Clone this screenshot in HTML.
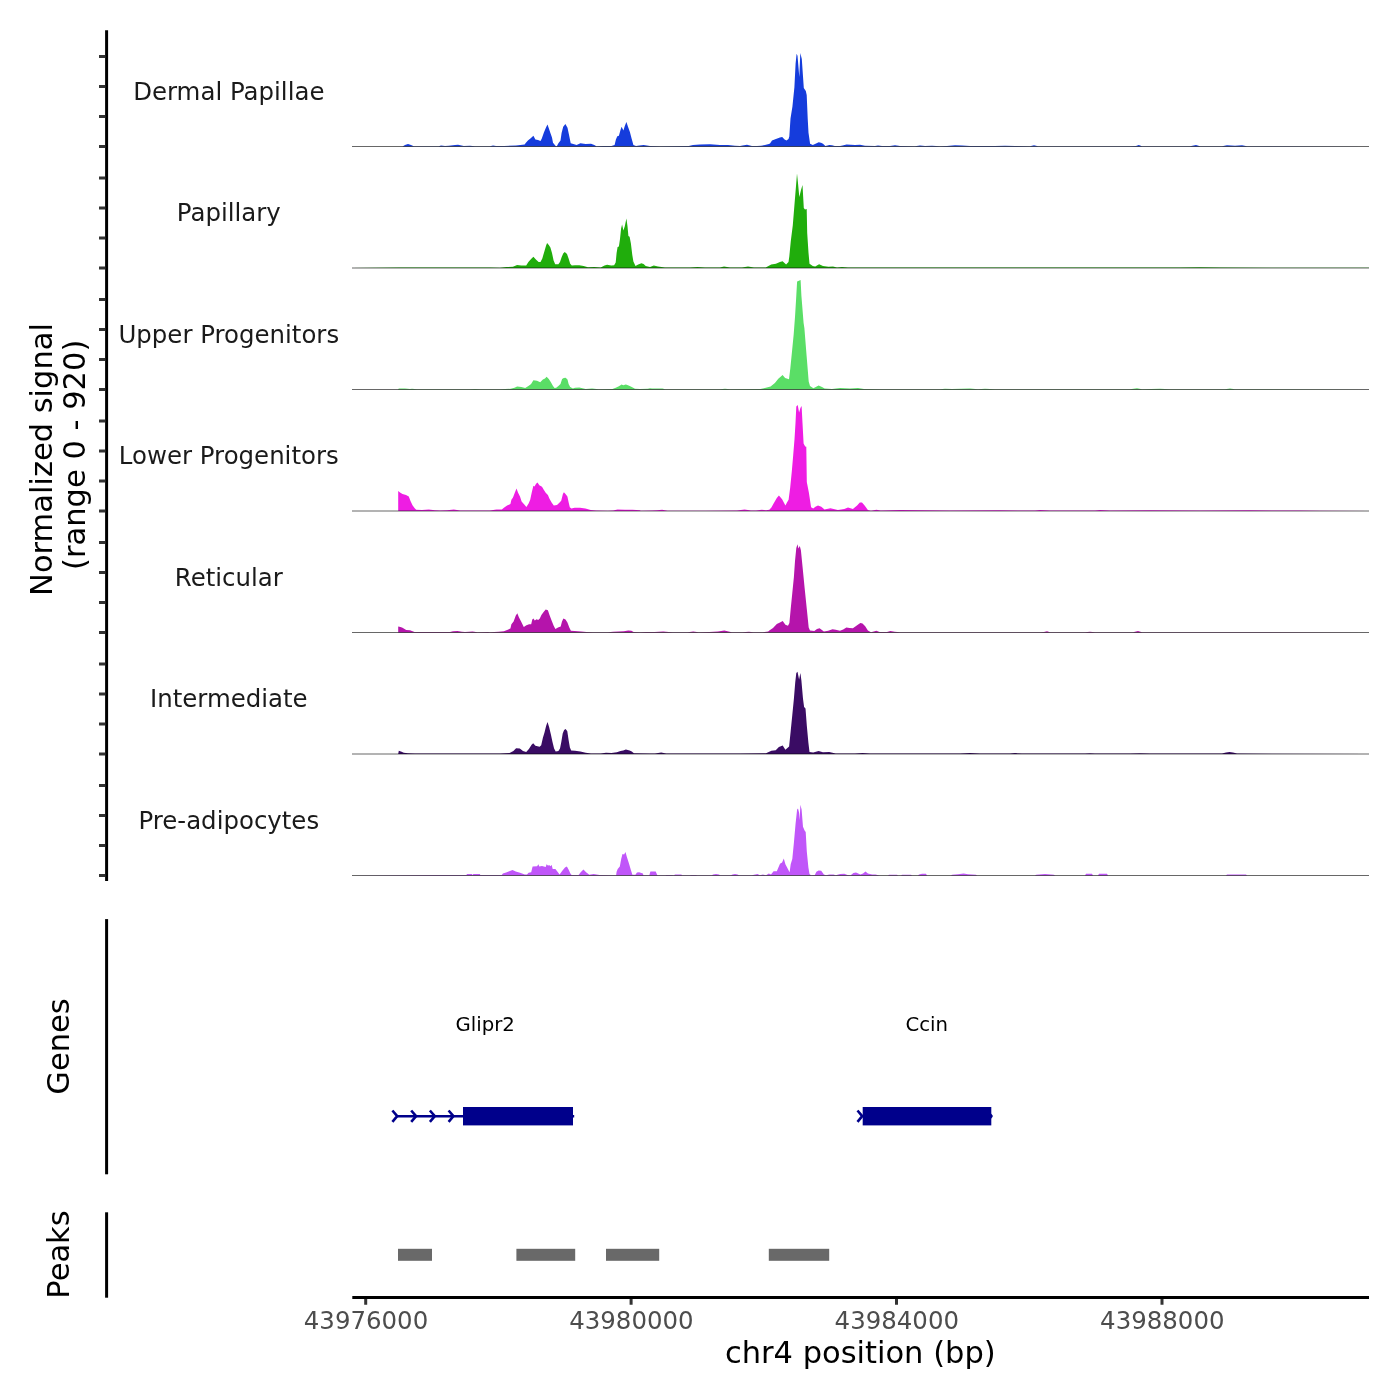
<!DOCTYPE html>
<html lang="en"><head><meta charset="utf-8"><title>Coverage plot chr4</title>
<style>html,body{margin:0;padding:0;background:#fff;overflow:hidden}svg{display:block}text{font-family:"DejaVu Sans", "Liberation Sans", sans-serif}</style></head><body>
<svg width="1400" height="1400" viewBox="0 0 1400 1400">
<rect width="1400" height="1400" fill="#fff"/>
<g id="coverage">
<path d="M352,146.5L352,146.5L402.5,146.5L405,145L408,144L411,145L413.8,146.2L438.8,146.2L441,145.5L445,146L448.8,145.8L455,145L458,144.7L463.8,146L470,145.8L475,146.2L490,146.2L493,145.5L496,146.1L503.8,145.9L504.3,146L516,145.5L524.6,144.4L525.9,142.8L527.9,140.6L531,137.9L533.4,135.8L535.4,139.5L538,140.1L540.5,141.1L541.8,138.5L543.9,132.6L546.1,127.2L547.5,124.5L548.8,128.3L550.4,133.1L552,137.4L553,142.8L555.7,146L556.8,146.2L558.4,143.3L560.5,140.6L561.6,133.1L563.2,126.7L565.4,124L567.5,127.8L569.1,135.2L570.7,143.3L575,144.4L576.6,144.9L580.4,143.3L585.7,144L591,143.8L594.3,145.1L596.4,146.2L602.9,146L611.4,146L614.6,145.1L615.9,139.5L617.3,136.3L618.9,135.8L620.5,129.9L621.6,126.7L623.4,130.5L624.8,126.1L626.4,121.9L628,126.7L629.9,132L631.6,138.5L633.4,145.1L636,146L639.3,145.5L643.6,145.1L650,146L660,146.2L688.8,146.1L693,145L700,144.5L710,144.3L720,145L728,145L735,145.7L740,146L742.5,145.5L747,144.7L752,145.9L757,146.1L761,145.7L765,145L768.9,144.1L770,143.5L772,140.6L775.9,139L779.9,137.5L782.2,137.1L784.6,139.5L786.5,140.6L788.5,139L789.3,136.5L790.5,118.6L792.4,106.8L794.4,87.2L795.6,63.6L796.6,53.8L797.5,55.8L799.3,77L800.3,53L801.8,58.9L803.8,88L805.8,91.1L806.7,95L807.7,118.6L808.5,132.8L810.1,143.8L812.8,144.9L815,144L818.7,142.2L821,142.7L823,143.8L825.4,146.1L827.5,145.5L829.3,144.9L832,145.3L834.8,146L840,146.1L842.5,145.5L846.6,144.5L855,145L860,144.7L865,145.8L875,146.1L878,145.5L882,146.1L890,146L895,145.3L900,146L915,146.2L920,145.5L925,146L932,145.7L940,146.2L947,145.9L955,145.3L962,145.6L970,146.1L995,146.1L1005,145.7L1015,146.1L1030,146.2L1034,145.3L1038,146.2L1130,146.2L1136,145.9L1138.8,145.1L1142,146.2L1190,146.2L1196,145.1L1200,146.2L1222,146.2L1227,145.3L1235,145.7L1242,145.3L1247,146.2L1369,146.5L1369,146.5Z" fill="#153cdc"/>
<line x1="352" x2="1369" y1="146.5" y2="146.5" stroke="#000" stroke-width="0.6"/>
<path d="M352,268L352,268L400,267.6L450,267.5L490,267.5L500,267.8L506.4,267.1L512.9,266.7L517.1,265L521.4,265.5L526.2,265.5L528.4,262.1L531.1,258.9L533.4,256.8L535.9,259.4L538.6,261.9L540.5,262.1L542.3,258.4L544.5,250.9L546.1,245.5L547.1,243.1L548.8,245L550.4,247.6L552,253L553.6,260.5L555.2,264.2L558.4,264.2L560,262.1L561.6,257.3L563.2,253.5L564.8,252.1L567,254.1L568.6,258.4L570.2,263.7L571.8,265.6L575,265.3L579.3,265.3L583.6,266.1L587.9,267.2L594.3,266.9L600.7,267.5L604.5,265.6L607.1,264.8L611.4,265.6L614.1,265.3L615.7,262.6L616.6,253L617.6,247.1L618.9,246.4L620,239.1L621.1,228.4L622.1,224.6L623.4,230.5L624.8,226.2L626.4,218.5L627.5,226.2L628.4,235.9L629.6,236.7L630.9,243.4L632.3,255.1L633.4,261.6L635.5,265.9L638.2,264.6L641.4,263.2L643.6,263.9L645.7,266.1L650,267.1L653.8,265.5L658,266.5L665,267.5L690,267.5L697.5,267L705,267.4L720,267.5L724,266.6L730,267.4L742,267.5L748,266.6L754,267.5L765.7,267.6L771.2,264.5L775.9,263.7L779.9,262L782.6,261.2L786.1,264.5L788.5,262.1L789.3,256.6L790.8,241L792.8,225.2L794.4,205.6L796,186L797,173.4L797.9,182L799.3,197L801,190L802.5,185.1L803.8,208L805,209.5L806.7,209L807.2,233L808.5,252.7L809.5,263.7L812.8,266L815.2,266.4L819.1,264.3L823,266L828.5,266.8L833,266.4L837,267.5L842,267L848,267.5L900,267.5L1000,267.6L1100,267.5L1180,267.6L1200,267.2L1220,267.6L1369,267.7L1369,268Z" fill="#20ad0c"/>
<line x1="352" x2="1369" y1="268" y2="268" stroke="#000" stroke-width="0.6"/>
<path d="M352,389.5L352,389.5L398,389.5L398.8,388.5L405,388.6L410,389.1L412,388.7L417,389.2L470,389.3L475,388.9L480,389.3L495,389.2L500,389.3L510.7,388.8L514.5,387.7L517.1,386.6L521.4,387.1L525.2,387.9L528.4,386.1L531.1,383.9L533.4,380.2L537,380.7L540.2,382.3L542.9,379.6L545,378.6L546.6,376.8L548.8,379.1L550.9,382.3L553,386.1L554.6,387.9L556.2,387.7L558.4,386.1L560.5,383.9L562.1,379.1L563.8,378L565.6,377.7L567.5,379.6L568.6,383.9L570.2,387.1L572.9,388.4L575,387.7L579.3,387.5L582.5,388.2L585.7,389L592.1,388.5L598.6,389.2L612.5,389.1L615.7,387.7L618.9,386.3L621.6,384.5L623.2,385.2L625.9,384.5L628.6,385.5L631.8,386.9L635,388.8L640,389.1L647.9,388.8L650,388.2L652,388.5L662.5,388.6L665,389.2L720,389.2L725,388.8L730,389.2L760.3,389.1L770.6,386.5L774.9,383.1L778.3,378.8L782.6,374.9L785.1,377.9L789,379.2L790.3,368.5L792,351.5L793.7,334.2L795,317.1L796.3,295.7L797.1,281.5L800.6,280.1L801.4,295.7L803.6,323.1L804.4,328.2L806.6,355.7L808.7,381.5L810,386.1L813.4,388.2L818.6,385.6L822,386.9L824.6,388.6L832,389L840,388L850,388.6L858,388L864,388.9L880,389.2L940,389.2L945,388.7L952,389.1L970,388.6L978,389.2L985,388.8L995,389.2L1100,389.3L1130,389.2L1137,388.3L1142,389.2L1160,388.8L1170,389.2L1225,389.2L1230,388.5L1235,389.2L1369,389.5L1369,389.5Z" fill="#5ade66"/>
<line x1="352" x2="1369" y1="389.5" y2="389.5" stroke="#000" stroke-width="0.6"/>
<path d="M352,511L352,511L398.2,511L398.2,491L400,492.5L402.5,494L406,495L408.8,496.5L410.5,501L412.5,505.2L414.5,508L416.2,509.8L422,510.1L428.8,509.5L435,510.2L440,510.5L447,510.2L453.8,509.5L460,510.4L470,510.6L485,510.5L490,510.5L496.4,509.6L501.8,509.4L503.9,507.8L507.1,505.6L510.4,504L511.4,499.8L513,497.6L514.6,493.3L516.5,488.5L518.1,492.8L520,496.5L521.6,501.4L524.3,504.6L526.4,507L528.6,503.5L530.2,499.8L531.8,492.2L533.4,485.8L534.5,486.4L536.1,483.7L537.5,482.4L539.3,485.3L542,486.7L543.6,489.6L545.7,492.8L547.9,494.9L549.5,498.7L551.6,502.4L553.8,505.6L557,504.9L559.6,502.4L561.2,500.8L562.9,493.9L563.9,492.2L565.5,493.9L567.4,496.5L568.8,503L569.8,507.2L571.4,508.5L574.6,507.8L580,507.8L585.4,508.6L590.7,509.9L596.1,510.5L608,510.7L613.2,510.5L617.5,509.6L625,509.7L632.5,509.7L640,510.2L640.7,510.7L652,510.6L657,510.2L662.1,509.8L667.5,510.7L705,510.7L737,510.5L744.6,509.6L751,510.4L756,510.5L761.8,509.7L766,510.2L769.3,509.8L771.4,507.5L773.6,503.5L776.8,498.1L778.9,495.5L782.1,499.2L785.4,505.6L787,502.4L788.6,499.7L790.2,487.4L791.8,471.4L793.2,455.3L794.5,439.2L795.5,423.1L796.3,406.5L797.7,405L799.1,412.4L800.4,408.1L801.6,406L802.5,423.1L803.6,443.5L805.2,446.5L806.3,446.7L806.8,482.1L808.9,492.8L811.1,507.2L813.2,508.6L815.4,506.7L818,505.4L821.3,506.7L824.5,509.4L830.4,508.3L837.9,510L844.3,508.9L848,507.6L852.9,508.9L857.1,505.6L859.8,502.6L862,502.4L864.6,505.6L867.9,510L871,510.7L876.4,509.7L880.7,510.5L900,510.1L950,510.5L1000,510.3L1035,510.5L1040,510L1050,510.5L1095,510.4L1100,510L1110,510.5L1150,510.3L1200,510.5L1250,510.3L1300,510.5L1320,510.7L1369,511L1369,511Z" fill="#ee1de3"/>
<line x1="352" x2="1369" y1="511" y2="511" stroke="#000" stroke-width="0.6"/>
<path d="M352,632.5L352,632.5L398.2,632.5L398.2,626.5L400.5,626.9L402.5,627.8L406.2,630L410,630.2L414.5,632L450,632L453,631.3L457.5,631L462,631.7L465,632L469,631.7L472.5,631.5L477.5,632.2L488,632.1L490,632.2L498.6,631.8L503.9,631.2L507.1,629.9L510.4,628.5L511.4,624.2L513.6,621.6L515.7,615.7L517.3,613.2L518.9,617.3L521.1,621.6L523.8,626.9L526.4,625.3L529.1,624.2L531.2,624.2L532.3,619.4L533.4,618.4L534.8,620.5L536.6,619.2L538.2,620L539.8,618.4L541.4,615.1L543.6,611.9L545.7,609.6L547.9,610.3L549.5,615.1L551.6,620.5L553.8,625.9L555.4,629.1L558,627.5L560.7,626.4L562,621.6L563.4,618.6L565.5,619.4L567.4,622.6L569.3,627.5L570.9,630.7L574.6,630.9L581.1,631.4L586.4,632.1L593,632.3L608,632.2L613.2,631.8L618.6,631.5L623.9,631.2L628.2,630.4L631.4,630.8L633.6,632.1L640,632.2L646,632L654.6,631.9L663.2,631.4L668.6,631.9L672.9,632.3L687.9,632.3L693.2,631.6L698.6,632.2L709.3,632L717.9,631.4L724.3,630.6L728.6,631.4L731.8,632.2L742.5,632.2L748.9,631.8L753.2,632.3L762.9,632.2L768.2,631.6L769.3,630.6L773,627.9L776.8,624.1L780,622.5L782.7,621.1L785.4,624.7L788,625.8L789.4,623.1L790.7,609.1L792.3,593.1L793.9,577L795,560.9L796.3,548.1L797.5,544.3L798.4,548.6L799.8,546.1L800.9,550.2L802.5,566.3L804.6,587.7L806.8,609.1L808.7,627.4L810,630.4L814.3,631.1L817,629L819.6,628.2L823.9,631.6L828.2,630.8L832.5,629.3L835.7,629.7L840,630.8L843.2,629.5L846.4,627.6L849.5,628L852.9,628.2L857.1,625.2L860.4,623.1L862.5,623.6L865.2,626.3L867.9,630.6L871,632.2L876.4,630.8L879.6,632.1L887,632.1L890.4,631.1L894.6,631.7L900,632.3L1040,632.3L1044,632L1047,631.3L1050,632.2L1085,632.2L1090,631.7L1095,632.2L1133,632.2L1138,631.1L1142,632.2L1369,632.5L1369,632.5Z" fill="#b514ab"/>
<line x1="352" x2="1369" y1="632.5" y2="632.5" stroke="#000" stroke-width="0.6"/>
<path d="M352,754L352,754L398.2,754L398.8,750.8L401,751.6L403.8,752.8L408,753.2L415,753.5L490,753.5L500,753.4L509.6,752.9L513.4,751.1L516.1,748.2L519.8,748.6L523,751.1L526.2,751.9L528.9,749L531.6,744.7L533.2,743.3L535.4,745.8L539.6,746.8L541.2,745.2L542.9,737.7L544.5,732.4L546.1,725.9L547.5,721.9L549.1,727L550.9,734.5L552.5,742L554.1,748.4L555.7,751.4L558.4,751.1L560,748.4L561.3,742L562.7,733.4L564.1,730L565.6,729.1L567.3,731.3L568.6,739.9L569.9,747.4L571.2,750.4L575,750.8L580.4,751.4L585.7,752.7L591,753.6L600.7,753.6L606,752.7L611.4,753.1L616.8,752.2L620.5,751.1L623.2,750.6L625.9,749.5L629.6,750.6L631.8,751.6L633.9,753.2L650,753.5L655,753.5L661.2,752.5L666.2,753.5L700,753.5L740,753.5L766,753.2L771.4,750.8L775.7,750.2L778.9,747L782.7,745.4L785.4,749.7L789.1,746.5L790.7,731L792.3,715L793.9,698.8L795.2,682.7L796.3,673.1L797.5,671.8L799.1,679.5L800.4,673.1L801.4,680.6L803,698.8L804.1,707L805.5,708.5L806.8,725.6L808.4,742.8L809.5,751.9L813.2,752.6L818.6,751.1L822.9,752.2L829.3,751.9L835.7,753.5L855,753.5L862.5,752.9L870,753.6L900,753.4L960,753.5L970,753.1L980,753.6L1010,753.5L1015,753.1L1022,753.6L1085,753.6L1090,753.2L1095,753.6L1130,753.6L1140,753.2L1150,753.6L1222,753.6L1226,752.5L1229.5,752L1233,752.5L1237,753.6L1369,754L1369,754Z" fill="#3a0c64"/>
<line x1="352" x2="1369" y1="754" y2="754" stroke="#000" stroke-width="0.6"/>
<path d="M352,875.5L352,875.5L438.6,875L466.4,875L467,874.1L471.8,874.1L472.4,875.1L473.4,874.1L479.8,874.1L480.4,875.1L483.6,875L501.8,875L502.9,873.4L506.1,872.6L509.3,871.2L512.5,870.1L515.7,871.5L520,872.8L524.8,874.4L527,874.4L528.6,872.8L531.2,872.3L532.6,866.4L537.1,866.2L538.4,864.2L539.3,866.4L542,865.9L545.7,866.9L546.6,864.2L547.9,865.5L549.5,865.3L550.6,866.2L551.6,864.8L552.7,869.1L555.4,869.1L557.5,871.8L559.6,874.4L562.3,870.7L565,867.5L566.9,866.4L568.8,870.1L570.4,873.4L571.6,875L578.6,875L580.7,872.3L583.4,869.4L586.1,872.3L589.3,874.8L593.6,874.1L599.5,875L616.1,875.2L616.6,871.8L617.7,869.1L619.8,866.4L621.2,858.9L622.5,854.1L624.1,854.6L625.5,851.9L626.8,856.8L628.9,863.2L631.1,870.7L632.4,874.8L635.4,874.8L637,872.6L639.1,872.3L642.9,873.4L643.4,875.2L649.3,875.2L650.4,871.5L655.7,871.5L657,874.5L657.4,875.2L665.5,875.2L666.4,874.9L672.3,874.9L672.9,875.2L674,875.2L675,874.4L681.4,874.4L682,875.2L690,875.2L691,874.9L696,874.9L697,875.3L712,875.3L713,874.5L716,874L719,874.5L720,875.3L731,875.3L732.5,874.5L735,874L737.5,874.5L739,875.3L752,875.2L754,874.7L757.5,874.1L760,875.2L762.9,874.5L766,875.2L768.8,873.4L771,874.5L773.6,871.2L776.8,871.2L780,863.7L782.1,862.6L783.8,858.4L785.4,864.2L789.6,872.3L790.7,864.2L792.3,858.9L793.9,842.8L795.5,824.6L797.1,809.6L798,808.5L799.1,812.8L799.6,820.3L800.4,804.8L801.6,809.6L803,826.8L804.6,830.5L805.7,832.1L806.8,851.4L808.4,867.5L809.5,873.9L811,875.2L814.8,875L816.4,871.8L818.6,870.5L821.2,870.7L823.9,874.5L826,875.2L829.3,874.5L833.6,874.5L835.7,875.2L840,873.9L844.3,873.7L847.5,875L850.7,875.2L853.4,873L856,872.6L860.4,874.5L863,873.4L865.5,871.5L867.9,873.4L872.1,874.5L875.4,874.5L879.6,875.4L888,875.4L889,874.7L897,874.7L898,875.4L901,875.4L902,874.7L911,874.7L912,875.4L918,875.4L919,874.5L922,873.7L926,873.7L927,875.4L951,875.4L952,874.7L958,874.3L963.6,873.5L968,874.3L976,874.7L977,875.4L1035,875.4L1036,874.7L1045,874.1L1054,874.7L1055,875.4L1085,875.4L1086,873.7L1092,873.7L1093,875.4L1098,875.4L1099,873.7L1107,873.7L1108,875.4L1226,875.4L1227,874.6L1246,874.6L1247,875.4L1369,875.5L1369,875.5Z" fill="#c056f9"/>
<line x1="352" x2="1369" y1="875.5" y2="875.5" stroke="#000" stroke-width="0.6"/>
</g>
<g id="labels" font-size="24.45" fill="#1a1a1a" text-anchor="middle">
<text x="228.8" y="99.9">Dermal Papillae</text>
<text x="228.8" y="221.4">Papillary</text>
<text x="228.8" y="342.9">Upper Progenitors</text>
<text x="228.8" y="464.4">Lower Progenitors</text>
<text x="228.8" y="585.9">Reticular</text>
<text x="228.8" y="707.4">Intermediate</text>
<text x="228.8" y="828.9">Pre-adipocytes</text>
</g>
<g id="yaxis">
<line x1="106.6" x2="106.6" y1="30.3" y2="880.9" stroke="#000" stroke-width="3"/>
<path d="M99,146.5H105.2M99,116.5H105.2M99,86.4H105.2M99,56.4H105.2M99,268H105.2M99,238H105.2M99,207.9H105.2M99,177.9H105.2M99,389.5H105.2M99,359.5H105.2M99,329.4H105.2M99,299.4H105.2M99,511H105.2M99,481H105.2M99,450.9H105.2M99,420.9H105.2M99,632.5H105.2M99,602.5H105.2M99,572.4H105.2M99,542.4H105.2M99,754H105.2M99,724H105.2M99,693.9H105.2M99,663.9H105.2M99,875.5H105.2M99,845.5H105.2M99,815.4H105.2M99,785.4H105.2" stroke="#333" stroke-width="3" fill="none"/>
</g>
<g id="ytitles" font-size="30.5" fill="#000" text-anchor="middle">
<text transform="translate(52.1,459.5) rotate(-90)">Normalized signal</text>
<text transform="translate(85,454.8) rotate(-90)">(range 0 - 920)</text>
<text transform="translate(69.3,1046.5) rotate(-90)">Genes</text>
<text transform="translate(69.3,1254.5) rotate(-90)">Peaks</text>
</g>
<g id="genes">
<line x1="106.6" x2="106.6" y1="919.1" y2="1174.3" stroke="#000" stroke-width="3"/>
<g stroke="#00008b" fill="none" stroke-width="2.6" stroke-linejoin="round">
<path d="M397.3,1116.2H574.2"/>
<path d="M392.4,1110.5L397.2,1116.2L392.4,1121.9"/>
<path d="M411.2,1110.5L416.1,1116.2L411.2,1121.9"/>
<path d="M429.9,1110.5L434.8,1116.2L429.9,1121.9"/>
<path d="M448.6,1110.5L453.4,1116.2L448.6,1121.9"/>
<path d="M857.5,1110.5L862.2,1116.2L857.5,1121.9"/>
<path d="M986.7,1110.5L991.5,1116.2L986.7,1121.9"/>
</g>
<rect x="463" y="1107" width="110" height="18.4" fill="#00008b"/>
<rect x="862.7" y="1107" width="128.6" height="18.4" fill="#00008b"/>
<g font-size="19.7" fill="#000" text-anchor="middle">
<text x="485.2" y="1030.5">Glipr2</text>
<text x="926.8" y="1030.5">Ccin</text>
</g>
</g>
<g id="peaks">
<line x1="106.6" x2="106.6" y1="1212.3" y2="1297.7" stroke="#000" stroke-width="3"/>
<rect x="398" y="1248.8" width="34" height="12" fill="#696969"/>
<rect x="516.4" y="1248.8" width="58.8" height="12" fill="#696969"/>
<rect x="606" y="1248.8" width="53.2" height="12" fill="#696969"/>
<rect x="768.8" y="1248.8" width="60.4" height="12" fill="#696969"/>
</g>
<g id="xaxis">
<line x1="352.3" x2="1369" y1="1297.5" y2="1297.5" stroke="#000" stroke-width="3"/>
<path d="M365.7,1298.9V1304.8M631.1,1298.9V1304.8M896.5,1298.9V1304.8M1162,1298.9V1304.8" stroke="#333" stroke-width="3" fill="none"/>
<g font-size="24.45" fill="#4d4d4d" text-anchor="middle">
<text x="366" y="1329.1">43976000</text>
<text x="631.4" y="1329.1">43980000</text>
<text x="896.8" y="1329.1">43984000</text>
<text x="1162.3" y="1329.1">43988000</text>
</g>
<text x="860.3" y="1362.6" font-size="30.5" fill="#000" text-anchor="middle">chr4 position (bp)</text>
</g>
</svg></body></html>
